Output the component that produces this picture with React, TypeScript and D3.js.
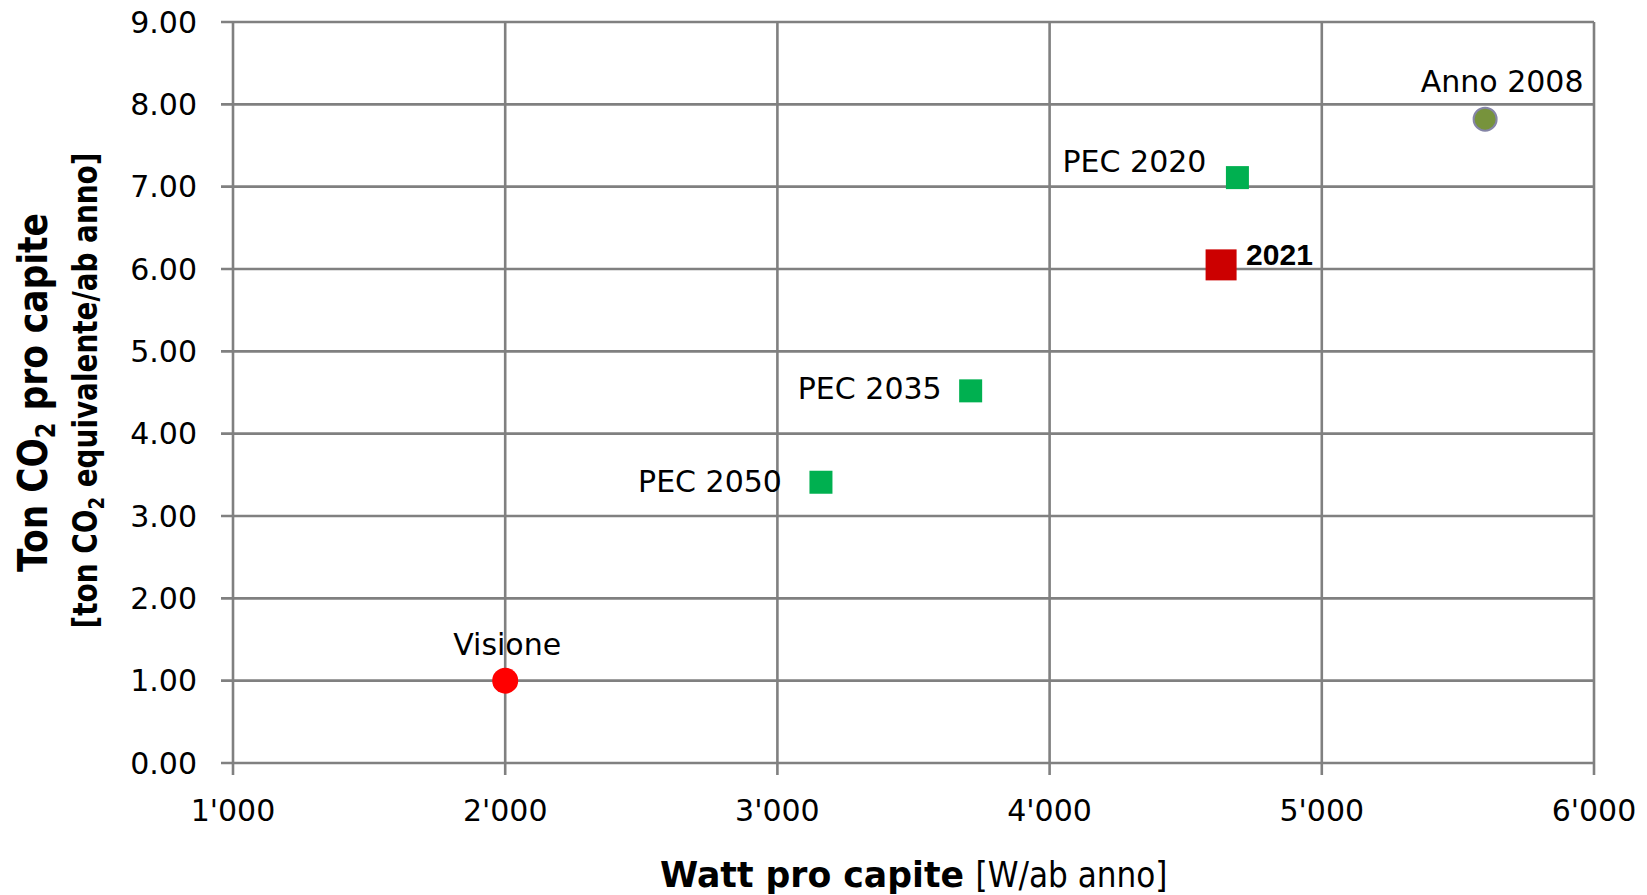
import React from 'react';
import * as d3 from 'd3';

// data
const pointNames = ['Visione', 'PEC 2050', 'PEC 2035', 'PEC 2020', '2021', 'Anno 2008'];
const wattValues = [2000, 3160, 3710, 4690, 4630, 5600];
const co2Values = [1.0, 3.41, 4.52, 7.11, 6.05, 7.82];
const xTickValues = [1000, 2000, 3000, 4000, 5000, 6000];
const yTickValues = [0, 1, 2, 3, 4, 5, 6, 7, 8, 9];

// how each point is drawn
const markerStyles: { [k: string]: any } = {
    'Visione': { shape: 'circle', size: 13, fill: '#FF0000', stroke: 'none' },
    'PEC 2050': { shape: 'square', size: 23, fill: '#00B050', stroke: 'none' },
    'PEC 2035': { shape: 'square', size: 23, fill: '#00B050', stroke: 'none' },
    'PEC 2020': { shape: 'square', size: 23, fill: '#00B050', stroke: 'none' },
    '2021': { shape: 'square', size: 31, fill: '#CC0000', stroke: 'none' },
    'Anno 2008': { shape: 'circle', size: 11.5, fill: '#77933C', stroke: '#8585A6' }
};

const labelStyles: { [k: string]: any } = {
    'Visione': { dx: 2, dy: -26, anchor: 'middle', bold: false },
    'PEC 2050': { dx: -39, dy: 9.4, anchor: 'end', bold: false },
    'PEC 2035': { dx: -29, dy: 8.4, anchor: 'end', bold: false },
    'PEC 2020': { dx: -31, dy: -6, anchor: 'end', bold: false },
    '2021': { dx: 25, dy: 0, anchor: 'start', bold: true },
    'Anno 2008': { dx: 17, dy: -27.5, anchor: 'middle', bold: false }
};

const W = 1647, H = 895;
const margin = { top: 22, right: 53, bottom: 132, left: 233 };
const gridColor = '#808080';
const tickFont = '"DejaVu Sans", Verdana, sans-serif';

const swissFormat = d3.formatLocale({
    decimal: '.', thousands: "'", grouping: [3], currency: ['', '']
}).format(',d');

export default function App() {
    const w = W - margin.left - margin.right,
        h = H - margin.top - margin.bottom;

    const x = d3.scaleLinear().domain([1000, 6000]).range([margin.left, margin.left + w]);
    const y = d3.scaleLinear().domain([0, 9]).range([margin.top + h, margin.top]);

    const x0 = x.range()[0], x1 = x.range()[1];
    const y0 = y.range()[0], y1 = y.range()[1];
    const tickLen = 12;
    const midX = (x0 + x1) / 2;

    return (
        <svg width={W} height={H} style={{ position: 'absolute', left: 0, top: 0, background: '#fff' }}>
            <rect x={0} y={0} width={W} height={H} fill="#fff" />
            {/* grid + ticks */}
            <g stroke={gridColor} strokeWidth={2.6}>
                {yTickValues.map(t => (
                    <line key={'gy' + t} x1={x0 - tickLen} x2={x1} y1={y(t)} y2={y(t)} />
                ))}
                {xTickValues.map(t => (
                    <line key={'gx' + t} x1={x(t)} x2={x(t)} y1={y1} y2={y0 + tickLen} />
                ))}
            </g>
            {/* tick labels */}
            <g fontFamily={tickFont} fontSize={30} fill="#000">
                {yTickValues.map(t => (
                    <text key={'ly' + t} x={x0 - 36} y={y(t)} dy="0.36em" textAnchor="end">
                        {d3.format('.2f')(t)}
                    </text>
                ))}
                {xTickValues.map(t => (
                    <text key={'lx' + t} x={x(t)} y={y0 + 58} textAnchor="middle">
                        {swissFormat(t)}
                    </text>
                ))}
            </g>
            {/* points */}
            {pointNames.map((name, i) => {
                const s = markerStyles[name];
                const px = x(wattValues[i]), py = y(co2Values[i]);
                if (s.shape === 'circle') {
                    return <circle key={name} cx={px} cy={py} r={s.size} fill={s.fill}
                        stroke={s.stroke} strokeWidth={2} />;
                }
                return <rect key={name} x={px - s.size / 2} y={py - s.size / 2}
                    width={s.size} height={s.size} fill={s.fill} />;
            })}
            {/* point labels */}
            {pointNames.map((name, i) => {
                const l = labelStyles[name];
                const px = x(wattValues[i]), py = y(co2Values[i]);
                return (
                    <text key={'t' + name} x={px + l.dx} y={py + l.dy} textAnchor={l.anchor}
                        fontFamily={l.bold ? '"Liberation Sans", Arial, sans-serif' : tickFont}
                        fontWeight={l.bold ? 'bold' : 'normal'} fontSize={30} fill="#000">
                        {name}
                    </text>
                );
            })}
            {/* x axis title */}
            <text x={midX - 253.5} y={y0 + 124} fontFamily={tickFont} fontWeight="bold"
                fontSize={36} textLength={304} lengthAdjust="spacingAndGlyphs">
                Watt pro capite
            </text>
            <text x={midX + 62} y={y0 + 124} fontFamily={tickFont} fontSize={36}
                textLength={192} lengthAdjust="spacingAndGlyphs">
                [W/ab anno]
            </text>
            {/* y axis title */}
            <text transform={`translate(47, ${(y0 + y1) / 2}) rotate(-90)`} textAnchor="middle"
                fontFamily={tickFont} fontWeight="bold" fontSize={40}
                textLength={359} lengthAdjust="spacingAndGlyphs">
                Ton CO<tspan fontSize={26} dy={8}>2</tspan><tspan dy={-8}> pro capite</tspan>
            </text>
            <text transform={`translate(97, ${(y0 + y1) / 2 - 2}) rotate(-90)`} textAnchor="middle"
                fontFamily={tickFont} fontWeight="bold" fontSize={34}
                textLength={476} lengthAdjust="spacingAndGlyphs">
                [ton CO<tspan fontSize={22} dy={7}>2</tspan><tspan dy={-7}> equivalente/ab anno]</tspan>
            </text>
        </svg>
    );
}
